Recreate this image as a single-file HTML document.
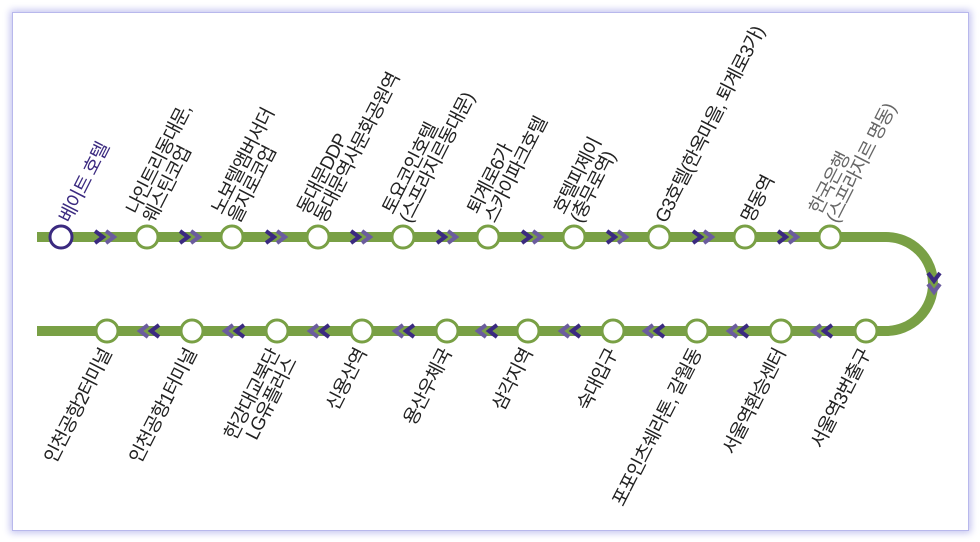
<!DOCTYPE html>
<html><head><meta charset="utf-8"><style>
html,body{margin:0;padding:0;background:#fff;width:980px;height:542px;overflow:hidden}
#f{position:absolute;left:12px;top:12px;width:955px;height:517px;border:1px solid #b8b8ec;box-shadow:0 0 7px 2px #c4c4f0;background:#fff}
svg{position:absolute;left:0;top:0}
text{font-family:"Liberation Sans","Noto Sans CJK KR",sans-serif;font-size:19px;fill:#222;letter-spacing:-1px}
</style></head><body>
<div id="f"></div>
<svg width="980" height="542" viewBox="0 0 980 542">
<defs>
<g id="cr"><path d="M-9,-6 L-1,0 L-9,6" fill="none" stroke="#3b2a80" stroke-width="4"/><path d="M2,-6 L10,0 L2,6" fill="none" stroke="#6b5c9e" stroke-width="4"/></g>
<g id="cl"><path d="M9,-6 L1,0 L9,6" fill="none" stroke="#3b2a80" stroke-width="4"/><path d="M-2,-6 L-10,0 L-2,6" fill="none" stroke="#6b5c9e" stroke-width="4"/></g>
</defs>
<path d="M37,237 H886 A47,47 0 0 1 886,331 H37" fill="none" stroke="#79a045" stroke-width="10"/>
<g>
<use href="#cr" x="104" y="237"/><use href="#cr" x="189" y="237"/><use href="#cr" x="275" y="237"/><use href="#cr" x="360" y="237"/><use href="#cr" x="446" y="237"/><use href="#cr" x="531" y="237"/><use href="#cr" x="616" y="237"/><use href="#cr" x="702" y="237"/><use href="#cr" x="787" y="237"/>
<use href="#cl" x="150" y="331"/><use href="#cl" x="235" y="331"/><use href="#cl" x="320" y="331"/><use href="#cl" x="405" y="331"/><use href="#cl" x="488" y="331"/><use href="#cl" x="571" y="331"/><use href="#cl" x="655" y="331"/><use href="#cl" x="739" y="331"/><use href="#cl" x="823" y="331"/>
<g transform="translate(934,282) rotate(90)"><use href="#cr" x="0" y="0"/></g>
</g>
<g fill="#fff" stroke="#79a045" stroke-width="3">
<circle cx="61" cy="237" r="11" stroke="#3b2a80"/>
<circle cx="147" cy="237" r="11"/><circle cx="232" cy="237" r="11"/><circle cx="318" cy="237" r="11"/><circle cx="403" cy="237" r="11"/><circle cx="488" cy="237" r="11"/><circle cx="574" cy="237" r="11"/><circle cx="659" cy="237" r="11"/><circle cx="745" cy="237" r="11"/><circle cx="830" cy="237" r="11"/>
<circle cx="107" cy="331" r="11"/><circle cx="192" cy="331" r="11"/><circle cx="277" cy="331" r="11"/><circle cx="362" cy="331" r="11"/><circle cx="447" cy="331" r="11"/><circle cx="528" cy="331" r="11"/><circle cx="613" cy="331" r="11"/><circle cx="697" cy="331" r="11"/><circle cx="781" cy="331" r="11"/><circle cx="866" cy="331" r="11"/>
</g>
<g>
<text transform="translate(70,224) rotate(-63)" style="fill:#3b2a80">베이트 호텔</text>
<text transform="translate(154,224) rotate(-63)"><tspan x="0" y="-19">나인트리동대문,</tspan><tspan x="0" y="0">웨스틴코업</tspan></text>
<text transform="translate(239,224) rotate(-63)"><tspan x="0" y="-19">노보텔앰버서더</tspan><tspan x="0" y="0">을지로코업</tspan></text>
<text transform="translate(325,224) rotate(-63)"><tspan x="0" y="-19">동대문DDP</tspan><tspan x="0" y="0">동대문역사문화공원역</tspan></text>
<text transform="translate(410,224) rotate(-63)"><tspan x="0" y="-19">토요코인호텔</tspan><tspan x="0" y="0">(스프라지르동대문)</tspan></text>
<text transform="translate(495,224) rotate(-63)"><tspan x="0" y="-19">퇴계로6가</tspan><tspan x="0" y="0">스카이파크호텔</tspan></text>
<text transform="translate(581,224) rotate(-63)"><tspan x="0" y="-19">호텔피제이</tspan><tspan x="0" y="0">(충무로역)</tspan></text>
<text transform="translate(666,224) rotate(-63)">G3호텔(한옥마을, 퇴계로3가)</text>
<text transform="translate(752,224) rotate(-63)">명동역</text>
<text transform="translate(837,224) rotate(-63)" style="fill:#666"><tspan x="0" y="-19">한국은행</tspan><tspan x="0" y="0">(스프라지르 명동)</tspan></text>

<text transform="translate(112,353) rotate(-63)" text-anchor="end">인천공항2터미널</text>
<text transform="translate(197,353) rotate(-63)" text-anchor="end">인천공항1터미널</text>
<text transform="translate(280,353) rotate(-63)" text-anchor="end"><tspan x="0" y="0">한강대교북단</tspan><tspan x="0" y="19">LG유플러스</tspan></text>
<text transform="translate(367,353) rotate(-63)" text-anchor="end">신용산역</text>
<text transform="translate(452,353) rotate(-63)" text-anchor="end">용산우체국</text>
<text transform="translate(533,353) rotate(-63)" text-anchor="end">삼각지역</text>
<text transform="translate(618,353) rotate(-63)" text-anchor="end">숙대입구</text>
<text transform="translate(702,353) rotate(-63)" text-anchor="end">포포인츠쉐라톤, 갈월동</text>
<text transform="translate(786,353) rotate(-63)" text-anchor="end">서울역환승센터</text>
<text transform="translate(871,353) rotate(-63)" text-anchor="end">서울역3번출구</text>
</g>
</svg>
</body></html>
